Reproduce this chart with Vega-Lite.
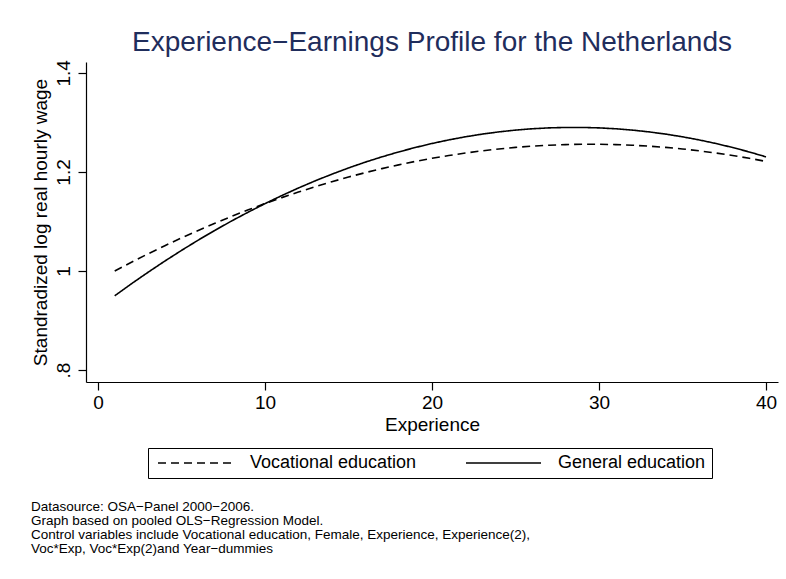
{
  "$schema": "https://vega.github.io/schema/vega-lite/v6.json",
  "background": "white",
  "padding": {"left": 31, "top": 28, "right": 5, "bottom": 5},
  "config": {
    "font": "Liberation Sans",
    "view": {"stroke": null},
    "axis": {
      "grid": false,
      "domainColor": "black",
      "domainWidth": 1.2,
      "tickColor": "black",
      "tickWidth": 1.2,
      "tickSize": 8,
      "labelColor": "black",
      "labelFontSize": 19,
      "titleColor": "black",
      "titleFontSize": 19,
      "titleFontWeight": "normal"
    }
  },
  "title": {
    "text": [
      "Datasource: OSA\u2212Panel 2000\u22122006.",
      "Graph based on pooled OLS\u2212Regression Model.",
      "Control variables include Vocational education, Female, Experience, Experience(2),",
      "Voc*Exp, Voc*Exp(2)and Year\u2212dummies"
    ],
    "orient": "bottom",
    "anchor": "start",
    "frame": "bounds",
    "fontSize": 13.5,
    "fontWeight": "normal",
    "lineHeight": 14.2,
    "offset": 21,
    "color": "black",
    "font": "Liberation Sans"
  },
  "vconcat": [
    {
      "width": 692,
      "height": 320,
      "title": {
        "text": "Experience\u2212Earnings Profile for the Netherlands",
        "fontSize": 28,
        "fontWeight": "normal",
        "color": "#1f2d5c",
        "anchor": "middle",
        "frame": "group",
        "offset": 3
      },
      "data": {
        "values": [
          {"Experience": 1, "Vocational education": 1.0001, "General education": 0.9500},
          {"Experience": 2, "Vocational education": 1.0178, "General education": 0.9743},
          {"Experience": 3, "Vocational education": 1.0348, "General education": 0.9976},
          {"Experience": 4, "Vocational education": 1.0512, "General education": 1.0201},
          {"Experience": 5, "Vocational education": 1.0669, "General education": 1.0417},
          {"Experience": 6, "Vocational education": 1.0820, "General education": 1.0624},
          {"Experience": 7, "Vocational education": 1.0965, "General education": 1.0822},
          {"Experience": 8, "Vocational education": 1.1104, "General education": 1.1011},
          {"Experience": 9, "Vocational education": 1.1236, "General education": 1.1190},
          {"Experience": 10, "Vocational education": 1.1362, "General education": 1.1361},
          {"Experience": 11, "Vocational education": 1.1482, "General education": 1.1523},
          {"Experience": 12, "Vocational education": 1.1595, "General education": 1.1676},
          {"Experience": 13, "Vocational education": 1.1702, "General education": 1.1820},
          {"Experience": 14, "Vocational education": 1.1803, "General education": 1.1955},
          {"Experience": 15, "Vocational education": 1.1898, "General education": 1.2081},
          {"Experience": 16, "Vocational education": 1.1986, "General education": 1.2198},
          {"Experience": 17, "Vocational education": 1.2068, "General education": 1.2305},
          {"Experience": 18, "Vocational education": 1.2143, "General education": 1.2404},
          {"Experience": 19, "Vocational education": 1.2213, "General education": 1.2494},
          {"Experience": 20, "Vocational education": 1.2276, "General education": 1.2575},
          {"Experience": 21, "Vocational education": 1.2332, "General education": 1.2647},
          {"Experience": 22, "Vocational education": 1.2383, "General education": 1.2710},
          {"Experience": 23, "Vocational education": 1.2427, "General education": 1.2764},
          {"Experience": 24, "Vocational education": 1.2465, "General education": 1.2809},
          {"Experience": 25, "Vocational education": 1.2496, "General education": 1.2845},
          {"Experience": 26, "Vocational education": 1.2521, "General education": 1.2872},
          {"Experience": 27, "Vocational education": 1.2540, "General education": 1.2890},
          {"Experience": 28, "Vocational education": 1.2553, "General education": 1.2899},
          {"Experience": 29, "Vocational education": 1.2559, "General education": 1.2899},
          {"Experience": 30, "Vocational education": 1.2559, "General education": 1.2890},
          {"Experience": 31, "Vocational education": 1.2553, "General education": 1.2872},
          {"Experience": 32, "Vocational education": 1.2540, "General education": 1.2845},
          {"Experience": 33, "Vocational education": 1.2521, "General education": 1.2809},
          {"Experience": 34, "Vocational education": 1.2496, "General education": 1.2764},
          {"Experience": 35, "Vocational education": 1.2465, "General education": 1.2710},
          {"Experience": 36, "Vocational education": 1.2427, "General education": 1.2647},
          {"Experience": 37, "Vocational education": 1.2383, "General education": 1.2575},
          {"Experience": 38, "Vocational education": 1.2332, "General education": 1.2494},
          {"Experience": 39, "Vocational education": 1.2276, "General education": 1.2404},
          {"Experience": 40, "Vocational education": 1.2213, "General education": 1.2305}
        ]
      },
      "transform": [
        {"fold": ["Vocational education", "General education"], "as": ["edu", "wage"]}
      ],
      "mark": {"type": "line", "color": "black", "strokeWidth": 1.6},
      "encoding": {
        "x": {
          "field": "Experience",
          "type": "quantitative",
          "scale": {"domain": [-0.72, 40.72], "nice": false, "zero": false},
          "axis": {"values": [0, 10, 20, 30, 40], "title": "Experience", "labelPadding": 3, "titlePadding": 3}
        },
        "y": {
          "field": "wage",
          "type": "quantitative",
          "scale": {"domain": [0.776, 1.422], "nice": false, "zero": false},
          "axis": {
            "values": [0.8, 1, 1.2, 1.4],
            "labelExpr": "datum.value < 0.9 ? '.8' : format(datum.value, '~g')",
            "labelAngle": 270,
            "labelAlign": "center",
            "labelBaseline": "bottom",
            "labelPadding": 5,
            "title": "Standradized log real hourly wage",
            "titlePadding": 4
          }
        },
        "strokeDash": {
          "field": "edu",
          "type": "nominal",
          "scale": {
            "domain": ["Vocational education", "General education"],
            "range": [[8, 5], [1, 0]]
          },
          "legend": {
            "orient": "none",
            "legendX": 62,
            "legendY": 386,
            "direction": "horizontal",
            "title": null,
            "symbolType": "M-1,0H14",
            "symbolSize": 100,
            "symbolStrokeWidth": 1.5,
            "symbolStrokeColor": "black",
            "symbolFillColor": "transparent",
            "labelFontSize": 18,
            "labelColor": "black",
            "labelLimit": 300,
            "labelOffset": 78,
            "columnPadding": 45,
            "strokeColor": "black",
            "fillColor": "white",
            "padding": 6
          }
        }
      }
    }
  ]
}
